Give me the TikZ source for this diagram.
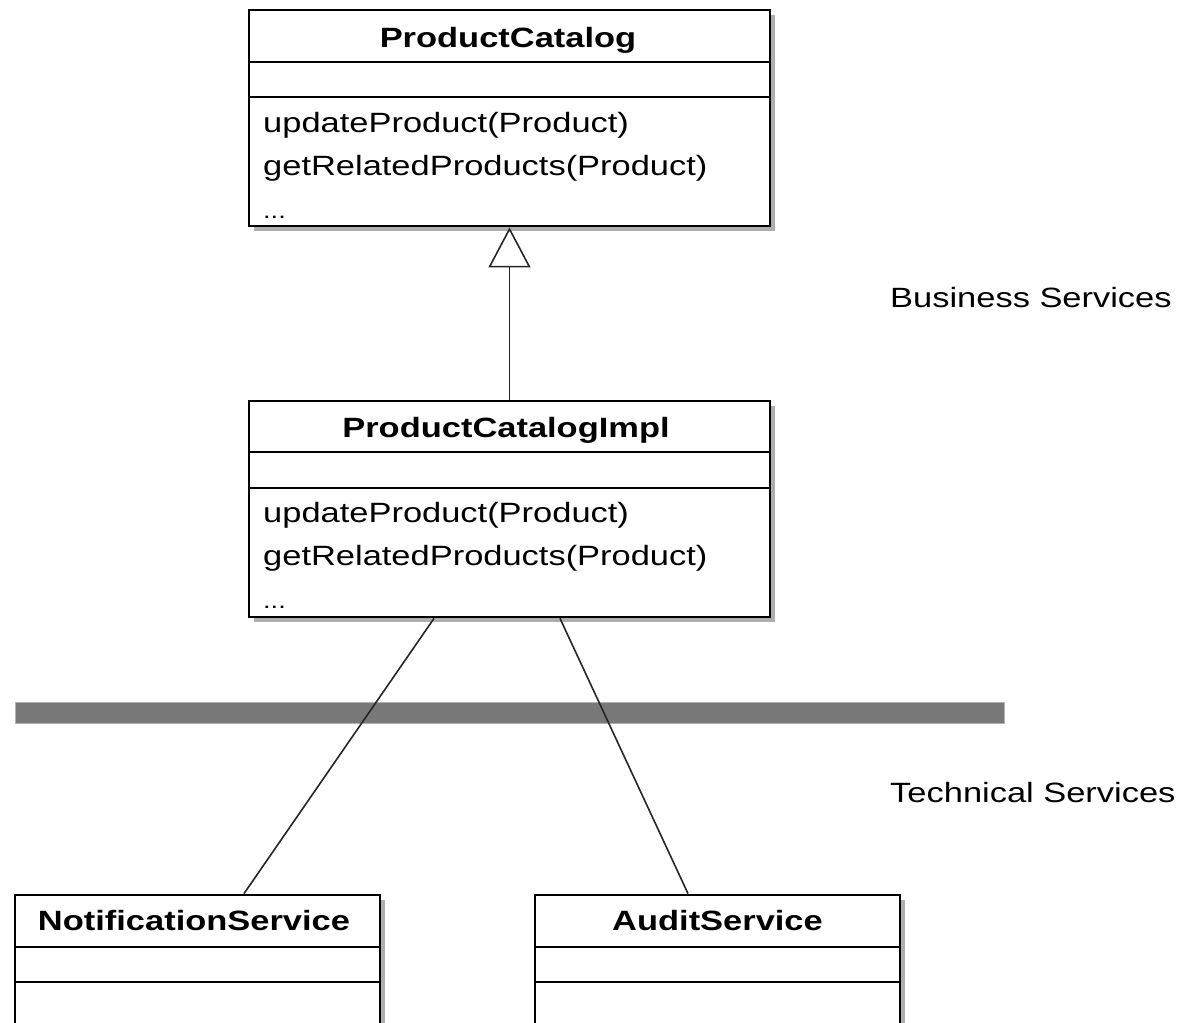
\documentclass[tikz,border=0pt]{standalone}
\usepackage{fontspec}
\setmainfont[FakeStretch=1.235]{Liberation Sans}
\usetikzlibrary{arrows.meta,shadows}

\tikzset{
  classbox/.style={draw=black, line width=2.8bp, fill=white, rectangle,
    drop shadow={shadow xshift=5bp, shadow yshift=-5bp, fill=black!45, opacity=0.7}},
  sep/.style={line width=2.6bp},
  title/.style={anchor=base, font=\fontsize{28}{42}\selectfont\bfseries, inner sep=0pt},
  member/.style={anchor=base west, font=\fontsize{28}{42}\selectfont, inner sep=0pt},
  layer/.style={anchor=base west, font=\fontsize{28}{42}\selectfont, inner sep=0pt},
  conn/.style={line width=1.6bp, draw=black!85},
}

\begin{document}
\begin{tikzpicture}[x=1bp, y=-1bp]
  \useasboundingbox (0,0) rectangle (1186,1023);
  \clip (0,0) rectangle (1186,1023);

  % layer separator
  \fill[black!53] (15,702) rectangle (1004,723);
  \draw[black!30, line width=1bp] (15,702) rectangle (1004,723);

  % ProductCatalog interface
  \node[classbox, minimum width=521bp, minimum height=216bp] (pc) at (509.5,118) {};
  \draw[sep] (249,62) -- (770,62);
  \draw[sep] (249,97) -- (770,97);
  \node[title] (pcTitle) at (508,47) {ProductCatalog};
  \node[member] (pcM1) at (263,132) {updateProduct(Product)};
  \node[member] (pcM2) at (263,175) {getRelatedProducts(Product)};
  \node[member, font=\fontsize{22}{30}\selectfont] (pcM3) at (263,218) {...};

  % ProductCatalogImpl
  \node[classbox, minimum width=521bp, minimum height=216bp] (pci) at (509.5,509) {};
  \draw[sep] (249,452) -- (770,452);
  \draw[sep] (249,488) -- (770,488);
  \node[title] (pciTitle) at (506,437) {ProductCatalogImpl};
  \node[member] (pciM1) at (263,522) {updateProduct(Product)};
  \node[member] (pciM2) at (263,565) {getRelatedProducts(Product)};
  \node[member, font=\fontsize{22}{30}\selectfont] (pciM3) at (263,608) {...};

  % NotificationService
  \node[classbox, minimum width=365bp, minimum height=170bp] (ns) at (197.5,980) {};
  \draw[sep] (15,947) -- (380,947);
  \draw[sep] (15,982) -- (380,982);
  \node[title] (nsTitle) at (194,930) {NotificationService};

  % AuditService
  \node[classbox, minimum width=365bp, minimum height=170bp] (as) at (717.5,980) {};
  \draw[sep] (535,947) -- (900,947);
  \draw[sep] (535,982) -- (900,982);
  \node[title] (asTitle) at (717.5,930) {AuditService};

  % realization
  \draw[conn, -{Triangle[open, length=40bp, width=42bp]}] (pci.north) -- (pc.south);

  % dependencies
  \draw[conn] (pci.south -| 434,0) -- (ns.north -| 244,0);
  \draw[conn] (pci.south -| 560,0) -- (as.north -| 688,0);

  % layer labels
  \node[layer] (business) at (890,307) {Business Services};
  \node[layer] (technical) at (890,802) {Technical Services};
\end{tikzpicture}
\end{document}
